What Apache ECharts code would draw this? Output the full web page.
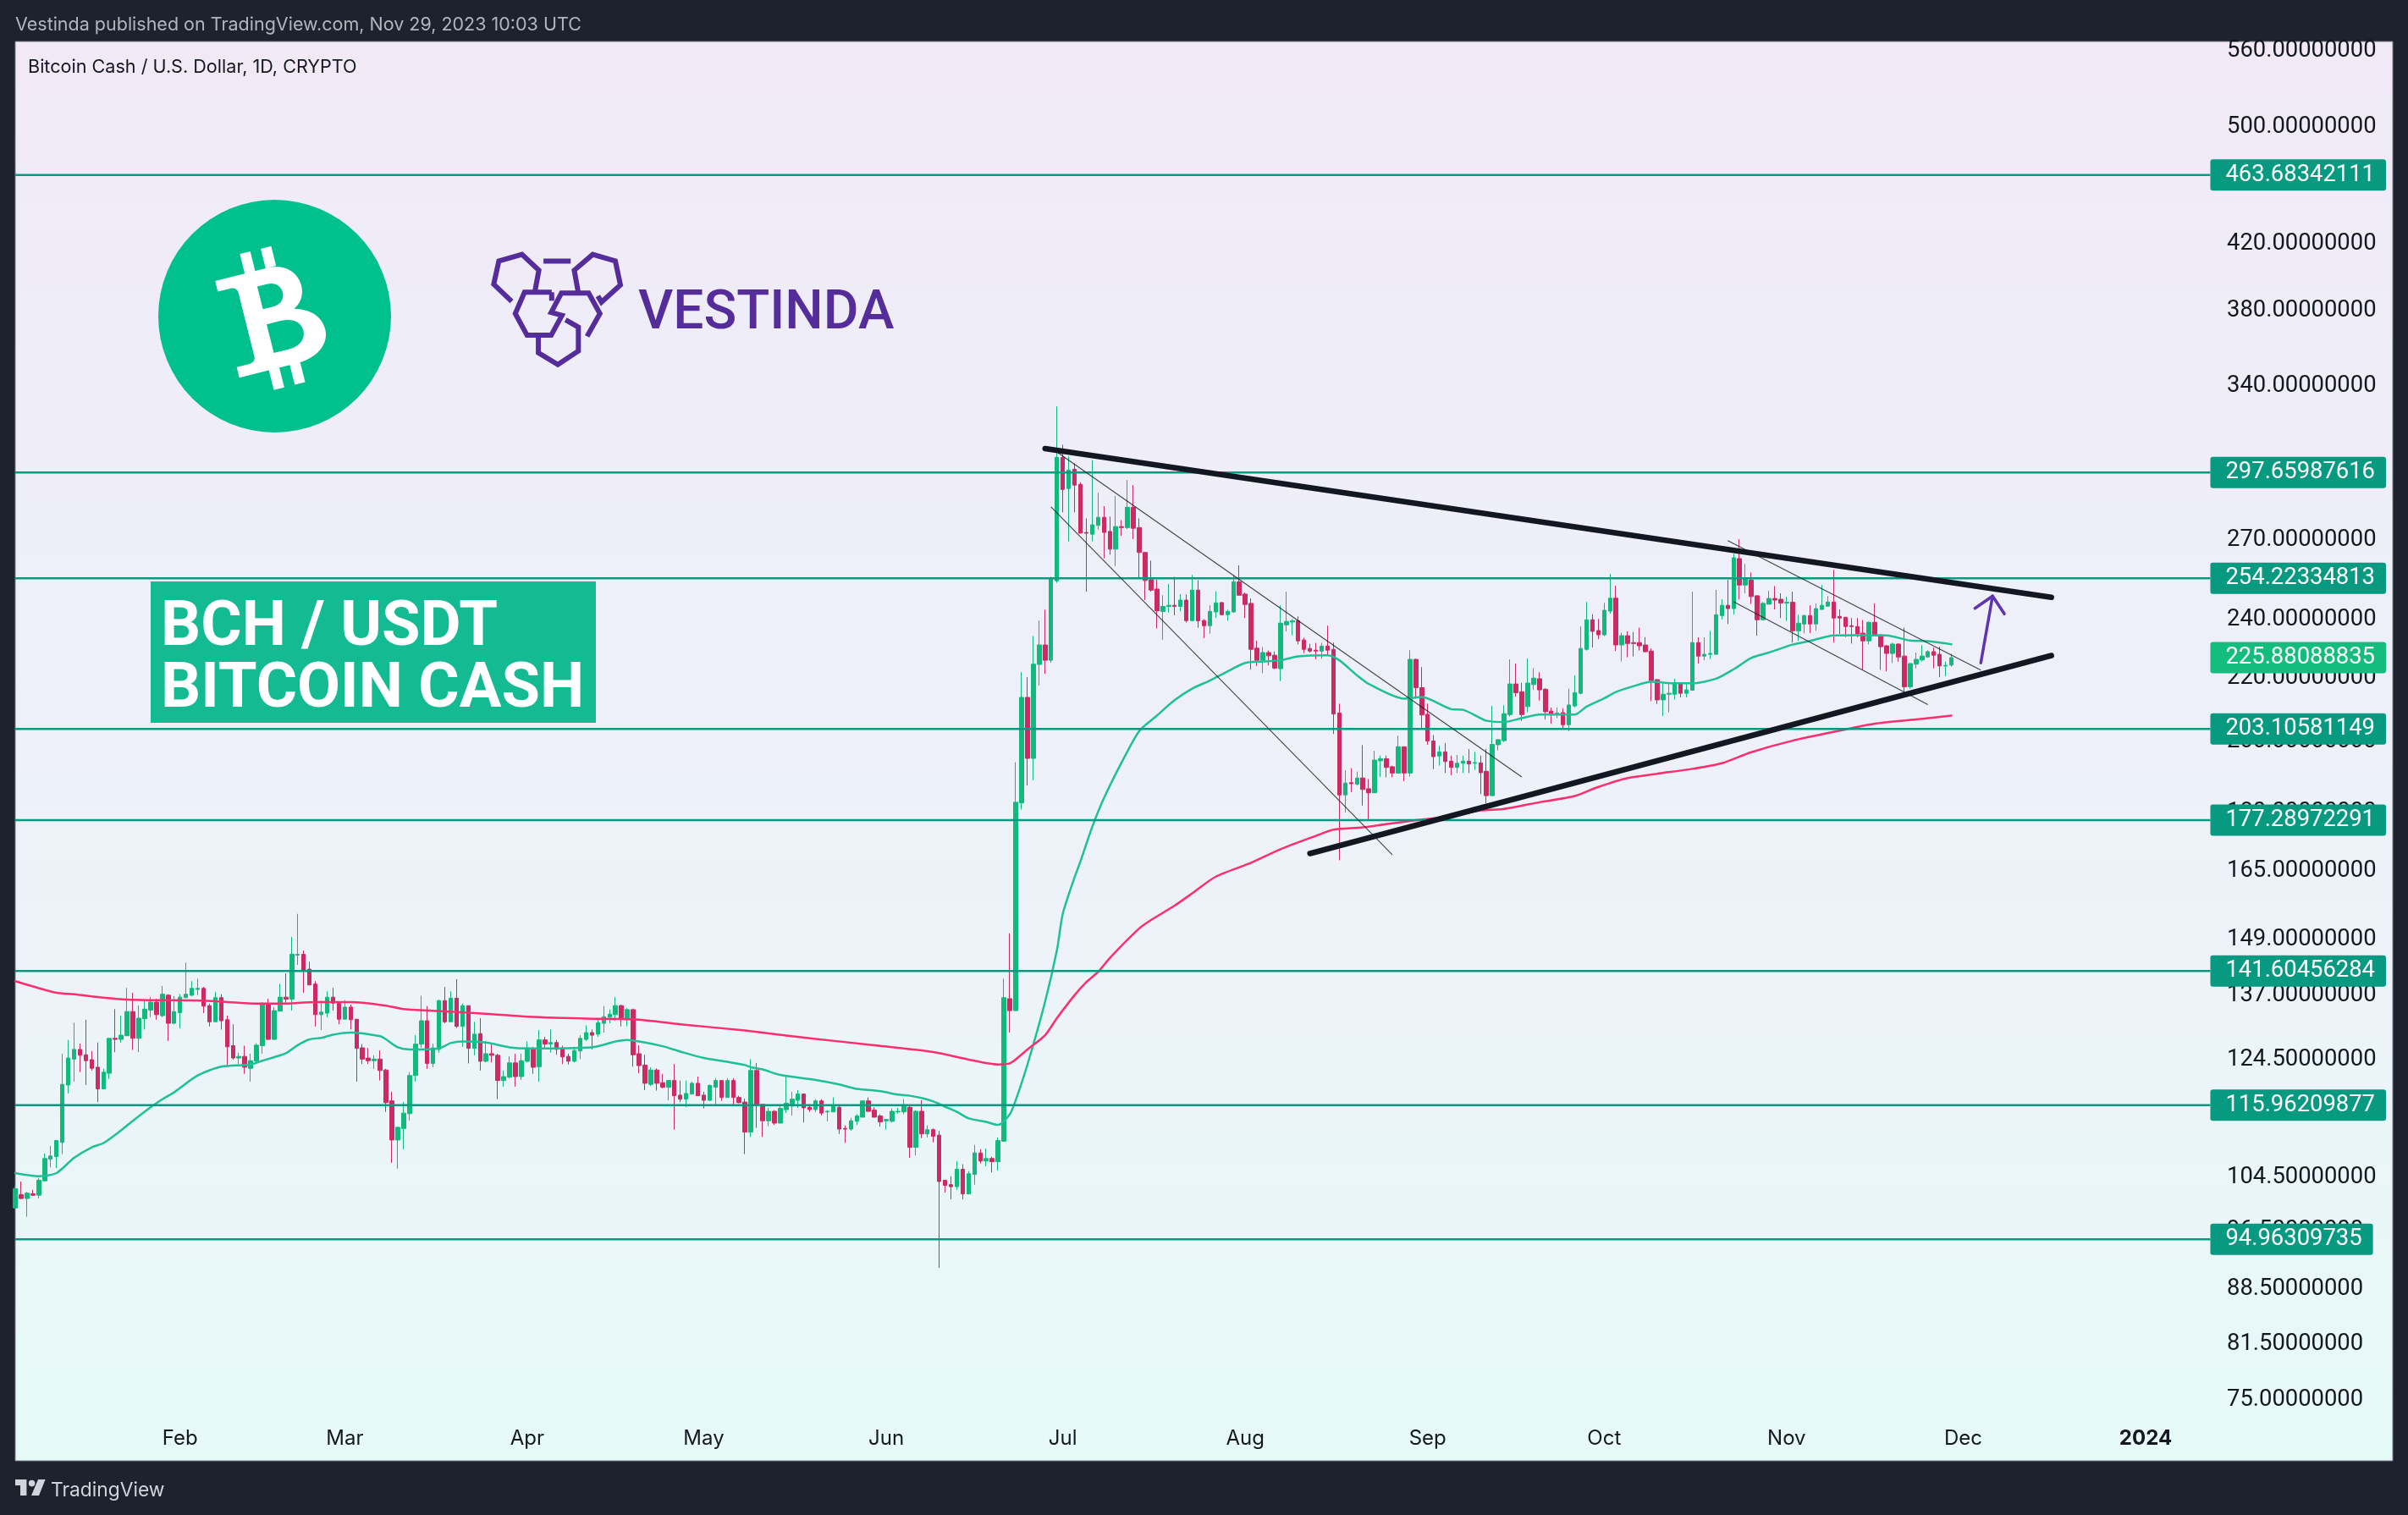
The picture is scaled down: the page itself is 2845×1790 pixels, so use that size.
<!DOCTYPE html>
<html><head><meta charset="utf-8"><title>BCH / USDT</title>
<style>html,body{margin:0;padding:0;background:#1E222D}#c{width:2845px;height:1790px}</style>
<script src="https://cdn.jsdelivr.net/npm/echarts@6/dist/echarts.min.js"></script>
</head><body><div id="c"></div>
<script>
const opens=[99.5,101.5,100.9,101.6,101.4,103.6,107.0,107.4,109.7,119.5,
124.2,126.0,125.0,124.1,122.7,118.8,121.6,128.1,127.9,128.6,
133.3,128.1,131.9,133.6,135.2,132.5,136.6,131.0,133.1,136.1,
136.6,137.8,138.0,134.5,131.3,136.1,131.7,126.7,124.4,124.7,
122.5,123.8,126.7,134.9,127.9,133.4,136.2,135.8,145.0,145.2,
142.0,138.9,132.7,133.0,136.2,135.0,131.8,134.2,131.8,126.3,
124.4,123.9,124.2,122.2,116.7,110.1,112.0,114.5,121.2,127.0,
131.5,123.4,126.0,135.5,131.3,136.0,130.4,134.5,126.2,129.0,
123.8,125.2,124.9,120.3,120.9,123.5,121.0,123.8,126.2,122.8,
127.8,127.0,127.3,126.2,124.7,123.8,125.7,127.9,129.2,128.9,
131.0,132.2,132.7,134.5,131.7,133.7,125.2,123.1,119.6,122.2,
119.9,119.1,120.3,117.7,117.0,117.9,119.8,117.7,116.8,119.1,
120.3,117.3,120.3,117.3,116.5,111.4,122.1,116.1,113.3,114.9,
112.9,115.2,115.8,116.8,117.9,115.6,115.2,116.7,114.8,114.8,
115.6,112.0,111.9,113.2,113.9,116.7,115.1,114.1,113.3,113.2,
114.8,114.8,115.6,108.9,114.9,111.1,111.8,110.9,103.7,103.0,
102.7,105.4,101.6,104.6,108.0,106.7,107.1,106.6,109.9,135.9,
133.5,181.9,212.9,194.4,223.6,230.2,225.0,253.3,304.4,290.6,
299.1,292.4,272.2,271.5,275.1,278.4,272.6,265.5,274.6,274.2,
282.6,274.2,264.2,253.7,250.2,242.0,243.8,244.2,243.8,246.1,
238.7,249.8,238.7,236.9,241.8,245.2,240.8,241.8,252.9,248.3,
244.9,229.1,225.0,227.6,226.7,222.2,237.2,238.2,238.6,231.9,
229.0,228.4,228.1,229.8,228.7,208.0,184.1,187.5,187.1,188.8,
185.8,184.7,193.7,194.3,192.0,190.2,197.8,190.2,225.3,216.0,
207.6,199.5,195.1,196.3,193.6,191.8,193.0,193.6,193.0,193.1,
190.7,183.9,198.4,199.6,207.5,217.2,214.7,210.0,217.0,218.9,
215.5,208.6,207.7,208.1,204.4,210.2,214.2,228.7,239.0,235.2,
233.7,242.1,246.8,230.2,233.4,231.0,231.0,230.2,228.1,218.6,
212.1,213.9,213.9,217.5,214.2,215.2,231.0,226.4,227.0,227.0,
240.5,244.2,243.0,261.8,251.7,253.6,247.7,239.0,244.6,246.7,
246.4,245.0,245.3,235.1,237.5,240.5,237.5,242.7,243.9,245.4,
240.2,239.9,236.9,236.6,234.3,231.6,238.1,233.7,229.9,227.3,
230.5,226.4,216.3,223.7,225.1,226.1,227.9,227.0,223.1,223.4];
const closes=[102.4,100.9,101.7,101.4,103.7,107.1,107.5,110.0,119.6,124.4,
126.0,124.9,123.9,122.5,118.8,121.8,128.1,127.9,128.7,133.3,
128.1,132.0,133.8,135.2,132.7,136.8,131.0,133.3,136.2,136.8,
138.0,138.0,134.4,131.3,136.1,131.5,126.5,124.4,124.7,122.7,
123.9,126.8,134.9,127.9,133.5,136.2,135.8,145.2,145.2,141.8,
138.7,132.7,133.2,136.2,135.0,131.8,134.2,131.7,126.2,124.2,
123.9,124.2,122.1,116.4,110.1,112.2,114.6,121.2,127.0,131.5,
123.4,126.3,135.5,131.3,136.0,130.4,134.5,126.2,128.9,123.8,
125.2,124.9,120.3,121.0,123.5,121.0,123.9,126.3,122.7,127.8,
127.0,127.3,126.0,124.6,123.8,125.8,128.1,129.2,128.7,131.1,
132.3,132.8,134.5,131.8,133.7,125.0,123.0,119.8,122.2,119.8,
119.1,120.3,117.6,117.0,118.0,119.8,117.6,116.8,119.4,120.3,
117.3,120.3,117.3,116.4,111.4,122.1,115.9,113.3,114.9,112.9,
115.4,116.3,117.0,117.9,115.5,115.2,116.7,114.6,114.9,115.8,
111.9,111.9,113.3,114.1,116.7,114.9,113.9,113.1,113.5,114.9,
114.9,115.8,108.9,114.9,111.1,111.8,110.7,103.5,102.9,102.7,
105.4,101.6,104.7,108.0,106.7,107.1,106.6,110.0,136.1,133.5,
182.1,212.9,194.4,223.7,230.2,225.0,254.2,304.4,290.2,298.7,
292.1,271.9,271.9,275.3,278.4,272.2,265.5,274.6,274.2,282.6,
273.9,264.2,253.4,249.8,242.2,243.8,244.2,243.8,246.1,238.7,
249.8,238.6,236.9,242.0,245.1,240.8,242.0,252.9,247.9,244.5,
228.7,225.0,227.6,226.5,222.4,237.8,238.4,238.6,231.6,228.7,
228.1,228.1,229.8,228.4,207.7,184.1,187.4,187.2,188.8,185.6,
184.7,193.9,194.3,191.8,190.2,197.8,190.2,225.3,216.0,207.4,
199.5,194.9,196.3,193.5,191.8,193.0,193.6,192.8,193.2,190.3,
183.9,198.5,199.9,207.8,217.2,214.4,207.5,217.5,219.1,215.3,
208.4,207.7,208.0,204.4,210.5,214.4,229.0,239.0,234.9,233.7,
242.4,246.8,230.2,233.4,230.7,230.7,229.9,227.9,218.3,212.1,
213.9,214.2,217.5,214.2,215.3,231.0,226.4,227.0,227.3,240.8,
244.2,243.0,262.1,251.7,253.9,247.4,239.0,244.9,246.7,246.1,
245.0,245.3,235.1,237.8,240.5,237.5,243.0,244.2,245.4,239.6,
239.6,236.6,236.6,234.0,231.6,238.1,233.7,229.6,227.3,230.5,
226.1,216.3,223.9,225.3,226.4,227.9,226.7,223.1,223.3,225.88];
const highs=[102.8,103.5,101.9,102.2,104.0,107.9,109.1,110.1,125.2,127.8,
131.1,127.1,131.7,125.7,127.3,122.4,128.1,133.8,132.5,138.1,
137.1,134.5,135.4,136.2,135.9,138.5,136.8,136.4,136.8,143.4,
139.5,140.0,138.3,134.9,137.3,136.8,132.5,130.8,125.4,126.7,
125.2,127.1,135.2,135.9,134.2,138.9,141.1,149.0,154.2,146.0,
143.6,139.5,135.5,137.4,138.1,135.0,135.6,134.7,131.8,127.0,
126.3,124.9,125.8,122.4,118.3,112.3,116.5,121.8,128.7,136.5,
134.4,127.1,135.7,138.3,137.4,139.9,134.9,134.5,131.3,132.0,
127.6,127.1,125.2,122.1,124.7,125.2,125.2,127.5,126.5,129.7,
128.4,129.8,127.8,126.7,125.2,126.5,128.7,130.6,129.8,131.7,
134.4,133.7,136.2,134.7,134.0,133.9,126.8,125.0,122.7,122.5,
121.5,120.4,123.3,120.3,120.3,120.1,121.0,118.3,119.6,120.7,
120.3,120.7,120.7,117.6,117.1,124.2,123.5,116.1,115.5,115.1,
116.1,121.0,118.3,118.6,118.0,116.1,117.0,117.0,115.1,117.3,
115.8,112.5,113.8,114.4,116.7,117.3,115.6,114.4,113.6,115.4,
115.5,117.0,115.8,115.1,116.8,112.5,112.0,111.6,103.7,104.3,
106.7,106.2,105.1,109.3,108.6,108.7,107.4,110.5,140.0,149.8,
193.3,221.1,219.4,233.3,238.7,242.6,254.8,328.4,310.2,304.9,
301.7,293.3,278.0,303.2,288.8,283.1,278.7,287.4,277.3,294.3,
292.1,278.0,264.2,261.0,253.7,247.9,252.1,254.8,248.3,248.2,
255.5,253.5,239.2,244.2,249.4,245.4,242.6,255.4,259.2,248.9,
246.7,231.7,229.5,228.3,228.0,244.2,249.2,239.2,240.2,232.7,
230.6,230.9,230.9,236.9,231.0,210.9,191.0,191.6,190.6,198.3,
188.5,196.6,195.2,195.2,192.3,201.1,197.8,228.4,225.5,222.7,
210.9,201.3,198.1,198.9,195.2,195.4,195.2,197.1,196.3,195.2,
197.1,210.2,200.0,210.4,225.3,223.9,217.6,225.6,222.4,221.0,
215.8,209.7,209.7,209.5,215.7,220.0,236.6,245.4,241.0,239.3,
245.1,255.8,251.4,234.4,234.9,234.7,236.2,232.9,229.0,218.7,
217.2,217.2,218.9,217.8,217.3,249.2,232.8,232.8,235.1,249.9,
246.4,253.6,263.6,269.5,259.7,256.4,247.9,245.4,249.5,251.3,
248.6,247.3,249.2,240.8,240.8,244.2,244.9,251.7,247.6,257.5,
242.7,240.0,239.6,239.6,238.9,238.3,244.9,233.7,230.1,231.0,
230.8,236.2,224.1,227.6,230.1,228.4,229.3,229.6,224.6,227.2];
const lows=[99.4,100.8,98.2,101.3,100.9,103.5,105.7,105.6,107.8,118.0,
120.1,121.8,119.5,122.1,116.5,118.8,120.6,125.5,127.3,128.6,
125.9,125.5,129.8,132.2,131.7,132.2,127.6,130.8,130.0,136.1,
136.4,136.6,133.0,130.4,131.3,129.8,122.7,124.1,123.3,121.5,
120.1,123.3,125.2,127.8,127.8,133.4,135.0,133.5,142.9,137.1,
138.7,130.4,129.7,132.2,133.5,130.8,131.8,129.8,120.1,123.3,
123.3,122.4,120.3,114.8,106.4,105.5,108.6,113.3,120.1,126.3,
122.4,122.7,125.4,131.0,131.3,130.1,126.5,123.4,124.9,122.1,
123.6,123.6,117.0,119.2,120.7,119.2,120.4,123.6,121.5,120.1,
126.0,125.4,125.0,123.3,123.2,123.6,124.2,127.6,126.0,128.4,
129.2,131.0,131.5,130.4,130.4,122.8,121.6,118.6,119.3,118.5,
118.9,116.8,111.8,116.5,115.6,117.8,117.6,115.4,116.7,116.1,
116.7,117.3,115.8,116.3,107.8,110.6,112.1,110.6,112.4,112.6,
112.9,114.6,114.2,115.5,113.0,114.8,114.8,114.2,113.2,114.8,
111.1,109.6,111.6,112.6,113.9,114.8,113.9,112.3,111.8,113.0,
114.5,114.4,107.2,107.6,110.4,110.5,109.7,91.0,101.8,100.8,
102.2,100.8,101.6,103.0,106.3,105.9,104.9,105.2,109.9,129.2,
133.5,180.1,186.7,188.2,216.7,220.5,224.2,252.5,280.5,268.6,
280.5,271.9,249.2,268.6,273.3,261.9,263.3,258.9,270.8,273.6,
269.5,254.2,246.1,249.2,235.9,232.0,241.5,240.6,242.0,238.0,
238.4,236.2,232.6,234.1,239.6,240.8,238.7,241.5,247.8,239.6,
221.9,223.1,220.7,223.3,222.0,218.1,234.9,233.5,230.4,227.4,
227.6,225.3,225.5,226.8,201.6,167.0,179.3,184.9,186.7,181.2,
177.5,184.6,189.0,189.0,189.0,190.1,187.9,189.2,212.5,203.3,
198.4,191.3,192.3,190.2,189.6,190.2,190.2,190.2,191.1,184.3,
181.8,183.9,196.7,199.2,206.9,213.1,205.6,208.2,215.3,211.9,
206.0,204.7,206.4,203.4,202.5,209.7,213.9,228.3,229.3,232.2,
233.2,241.2,228.1,224.6,226.0,226.3,228.3,227.7,211.7,210.8,
207.1,208.2,212.2,212.9,212.9,215.0,223.9,225.0,225.4,226.9,
239.1,237.5,240.8,246.3,248.6,244.7,233.4,239.0,244.6,242.7,
239.6,238.6,231.0,231.6,234.2,234.3,235.1,242.7,243.7,231.0,
234.0,232.9,230.7,232.9,221.9,230.4,233.7,221.8,221.3,224.1,
224.5,214.8,215.7,222.3,224.6,225.9,222.3,219.4,219.7,222.9];

// moving averages at these day indices
const ma50Days=[0,4,7,10,13,15,18,20,23,25,27,31,35,40,42,46,48,50,52,54,57,62,63,65,67,72,74,76,80,84,87,98,102,104,106,110,113,117,121,124,125,127,130,136,140,143,147,150,152,154,156,158,160,162,165,167,169,170,172,175,177,178,180,181,183,185,188,191,194,197,200,203,206,209,212,215,218,223,225,228,230,236,239,244,246,249,250,253,256,259,265,267,270,272,275,278,282,285,289,292,295,298,302,305,309,313,318,322,325,329];
const ma50Values=[104.8,104.3,104.8,107.2,108.9,109.6,111.7,113.3,115.6,117.0,118.2,121.2,122.8,123.2,123.9,125.3,126.8,127.9,128.2,128.8,129.2,128.5,127.9,126.4,126.0,126.2,127.2,127.5,127.3,126.4,126.2,126.4,127.5,127.8,127.5,126.6,125.6,124.4,123.7,123.1,122.7,122.3,121.3,120.4,119.6,118.8,118.4,117.8,117.6,117.2,116.6,115.7,114.8,113.7,113.1,112.6,114.4,116.8,123.2,135.3,146.0,154.2,162.8,166.7,175.5,183.2,193.2,202.5,207.2,212.0,215.7,218.3,221.3,224.1,224.6,225.0,226.3,226.7,225.0,220.0,217.2,212.5,213.0,209.2,209.0,206.4,205.6,205.2,206.4,207.5,207.5,210.0,212.6,214.6,216.5,217.9,217.4,217.4,218.9,222.0,225.8,227.6,230.3,231.6,233.5,233.6,233.5,231.7,231.5,230.4];
const ma200Days=[0,3,7,10,15,19,23,32,41,45,51,57,63,66,74,81,87,98,105,113,124,135,146,156,162,167,169,172,175,177,180,182,184,186,191,193,197,200,204,210,215,221,224,229,237,244,249,253,259,265,269,274,279,285,290,295,302,310,316,323,329];
const ma200Values=[139.5,138.4,137.1,136.8,136.1,135.7,135.6,135.5,134.9,134.9,135.2,135.2,134.5,133.8,133.3,132.8,132.3,131.9,131.8,130.8,129.6,128.1,126.8,125.5,124.1,123.2,123.4,126.0,128.7,132.0,136.6,139.3,141.4,144.4,150.9,152.8,156.1,159.0,163.0,166.4,169.8,173.2,174.8,175.4,177.1,178.4,179.9,180.3,182.1,183.8,186.3,188.8,190.0,191.4,193.0,196.2,199.6,202.6,204.7,206.0,207.2];

const levelPrices=[463.68342111,297.65987616,254.22334813,203.10581149,177.28972291,141.60456284,115.96209877,94.96309735];
const lastPrice=225.88088835;
const priceTicks=[560,500,420,380,340,270,240,220,200,180,165,149,137,124.5,104.5,96.5,88.5,81.5,75];
const monthTickDays=[28,56,87,117,148,178,209,240,270,301,331,362];
const monthTickLabels=['Feb','Mar','Apr','May','Jun','Jul','Aug','Sep','Oct','Nov','Dec','2024'];

// hand-drawn chart objects: pairs of [day index, price]
const thickLines=[[[175,308.4],[346,247.1]],[[220,168.7],[346,226.6]]];
const thinLines=[[[177,306.9],[256,189.1]],[[176,282.8],[234,168.4]],[[291,268.9],[334,221.7]],[[292,245.5],[325,210.6]]];
const arrowShaft=[[334,224.1],[336,247.6]];
const arrowHead=[[333,243.1],[336,247.6],[338,241.1]];

const DAYS=405;
const categories=[];
for(let i=0;i<DAYS;i++){const d=new Date(Date.UTC(2023,0,4+i));categories.push(d.toISOString().slice(0,10));}
const candles=opens.map((o,i)=>[o,closes[i],lows[i],highs[i]]);
const zip=(a,b)=>a.map((x,i)=>[x,b[i]]);
const FONT='Inter';
const NUMFONT='Roboto';
const levelEnd=373;

echarts.graphic.registerShape('bchGlyph',echarts.graphic.extendShape({
 shape:{},
 buildPath(c){
  c.moveTo(-52,-62);c.lineTo(8,-62);c.bezierCurveTo(30,-62,40,-45,40,-30);c.bezierCurveTo(40,-15,33,-7,26,-3);
  c.bezierCurveTo(42,2,54,14,54,32);c.bezierCurveTo(54,52,38,66,12,66);c.lineTo(-52,66);c.lineTo(-52,52);c.lineTo(-38,52);
  c.bezierCurveTo(-32,52,-30,48,-30,44);c.lineTo(-30,-40);c.bezierCurveTo(-30,-46,-34,-48,-38,-48);c.lineTo(-52,-48);c.closePath();
  c.moveTo(-8,-42);c.lineTo(-8,-12);c.lineTo(4,-12);c.bezierCurveTo(14,-12,18,-20,18,-27);c.bezierCurveTo(18,-36,12,-42,4,-42);c.closePath();
  c.moveTo(-8,8);c.lineTo(-8,46);c.lineTo(8,46);c.bezierCurveTo(22,46,30,38,30,27);c.bezierCurveTo(30,16,22,8,8,8);c.closePath();
  [[-18,-88],[6,-88],[-18,66],[6,66]].forEach(([x,y])=>{c.moveTo(x,y);c.lineTo(x+12,y);c.lineTo(x+12,y+26);c.lineTo(x,y+26);c.closePath();});
 }
}));

const chart=echarts.init(document.getElementById('c'),null,{width:2845,height:1790,renderer:'canvas'});
const drawn=(data,color,width,extra)=>Object.assign({type:'line',data,symbol:'none',silent:true,animation:false,
  lineStyle:{color,width,cap:'round',join:'round'},itemStyle:{color},z:5,clip:true},extra||{});
const badge=(v,bg)=>({show:true,distance:0,formatter:()=>v.toFixed(8),color:'#fff',backgroundColor:bg,fontFamily:NUMFONT,fontSize:27.4,
  padding:[6,13,4,18],lineHeight:27,borderRadius:3,align:'left'});
const series=[
 {type:'candlestick',data:candles,barWidth:5,silent:true,animation:false,clip:true,z:2,
  itemStyle:{color:'#11B97C',color0:'#CB2A62',borderColor:'#11B97C',borderColor0:'#CB2A62',borderWidth:1}},
 drawn(zip(ma50Days,ma50Values),'#1FBF97',2.5,{smooth:0.25,z:3}),
 drawn(zip(ma200Days,ma200Values),'#FF2E6E',2.5,{smooth:0.25,z:3}),
];
levelPrices.forEach(v=>series.push(drawn([[0,v],[levelEnd,v]],'#089981',2.5,{z:4,lineStyle:{color:'#089981',width:2.5,cap:'butt'},endLabel:badge(v,'#089981')})));
series.push(drawn([[levelEnd-1,lastPrice],[levelEnd,lastPrice]],'#14BD7E',0,{z:4,lineStyle:{width:0,opacity:0},endLabel:badge(lastPrice,'#14BD7E')}));
thinLines.forEach(l=>series.push(drawn(l,'rgba(19,23,34,0.8)',1,{z:5,lineStyle:{color:'rgba(19,23,34,0.8)',width:1.1,cap:'butt'}})));
thickLines.forEach(l=>series.push(drawn(l,'#131722',6.5,{z:6})));
series.push(drawn(arrowShaft,'#5E35B1',3.5,{z:6}));
series.push(drawn(arrowHead,'#5E35B1',3.5,{z:6}));

const hexPaths=[
 [[750,360],[715,313],[725,250],[770,232],[803,275],[795,335],[828,335],[775,335],[757,393],[780,452],[827,452],[848,398],[827,390],[847,337],[900,337],[922,393],[897,455]],
 [[828,335],[828,358]],
 [[880,337],[872,275],[908,232],[952,250],[962,315],[925,362],[918,345]],
 [[812,250],[865,250]],
 [[802,455],[802,500],[840,532],[880,495],[880,430],[855,410]]
];
const hexElems=hexPaths.map(p=>({type:'polyline',silent:true,z:1,
  shape:{points:p.map(([x,y])=>[150+x/1.65,200+y/2.305])},style:{stroke:'#542D9B',lineWidth:6,fill:null,lineJoin:'miter'}}));

const graphic=[
 {type:'text',x:18,y:29.5,silent:true,style:{text:'Vestinda published on TradingView.com, Nov 29, 2023 10:03 UTC',fill:'#B2B5BE',font:'21.5px '+FONT,verticalAlign:'middle'}},
 {type:'text',x:33,y:79,silent:true,style:{text:'Bitcoin Cash / U.S. Dollar, 1D, CRYPTO',fill:'#131722',font:'21.6px '+FONT,verticalAlign:'middle'}},
 {type:'text',x:60,y:1761,silent:true,style:{text:'TradingView',fill:'#D1D4DC',font:'22.8px '+FONT,verticalAlign:'middle'}},
 {type:'polygon',silent:true,shape:{points:[[18,1748],[31.4,1748],[31.4,1767],[24,1767],[24,1755],[18,1755]]},style:{fill:'#D1D4DC'}},
 {type:'polygon',silent:true,shape:{points:[[45,1748],[53.6,1748],[46,1767],[37,1767]]},style:{fill:'#D1D4DC'}},
 {type:'circle',silent:true,shape:{cx:37.6,cy:1752.6,r:3.8},style:{fill:'#D1D4DC'}},
 {type:'circle',silent:true,z:1,shape:{cx:324.5,cy:373.5,r:137.5},style:{fill:'#00C08D'}},
 {type:'bchGlyph',silent:true,z:1,x:321.5,y:374,rotation:0.245,scaleX:1.06,scaleY:0.92,style:{fill:'#fff'}},
 ...hexElems,
 {type:'text',x:754,y:372,silent:true,z:1,style:{text:'VESTINDA',fill:'#542D9B',font:'500 64px Roboto',verticalAlign:'middle'}},
 {type:'rect',silent:true,z:1,shape:{x:178,y:687,width:526,height:167},style:{fill:'#13BA92'}},
 {type:'text',x:190,y:743,silent:true,z:1,style:{text:'BCH / USDT',fill:'#fff',font:'700 74px Roboto',verticalAlign:'middle'}},
 {type:'text',x:190,y:816,silent:true,z:1,style:{text:'BITCOIN CASH',fill:'#fff',font:'700 74px Roboto',verticalAlign:'middle'}},
];

chart.setOption({
 animation:false,backgroundColor:'#1E222D',
 grid:{left:18,right:18,top:49,bottom:64,show:true,borderColor:'#787B86',borderWidth:1,
  backgroundColor:{type:'linear',x:0,y:0,x2:0,y2:1,colorStops:[{offset:0,color:'#F2E9F7'},{offset:0.15,color:'#EFECF8'},{offset:0.45,color:'#EEF0F9'},{offset:0.65,color:'#EDF3F8'},{offset:1,color:'#E6FAF8'}]}},
 xAxis:{type:'category',data:categories,boundaryGap:false,axisLine:{show:false},axisTick:{show:false},splitLine:{show:false},
  axisLabel:{inside:true,margin:14,color:'#131722',fontFamily:FONT,fontSize:24,interval:(i)=>monthTickDays.includes(i),hideOverlap:false,
   formatter:(v,i)=>{const k=monthTickDays.indexOf(i);if(k<0)return'';const t=monthTickLabels[k];return /^\d/.test(t)?'{b|'+t+'}':t;},
   rich:{b:{fontWeight:700,fontSize:24,fontFamily:FONT,color:'#131722'}}}},
 yAxis:{type:'log',logBase:10,min:68.26,max:565.7,position:'right',axisLine:{show:false},axisTick:{show:false},splitLine:{show:false},minorTick:{show:false},
  axisLabel:{inside:true,margin:196,align:'left',verticalAlign:'top',lineHeight:6,color:'#131722',fontFamily:NUMFONT,fontSize:27.4,customValues:priceTicks,formatter:v=>Number(v).toFixed(8),showMinLabel:true,showMaxLabel:true}},
 series,graphic
});
</script></body></html>
